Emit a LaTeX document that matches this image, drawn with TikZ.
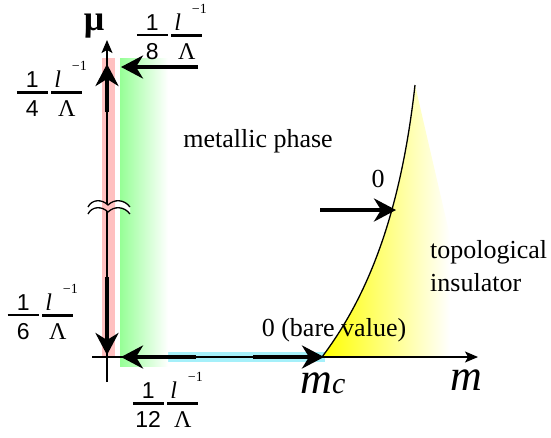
\documentclass[tikz,border=0pt]{standalone}
\usepackage{fontspec}
\setmainfont{Liberation Serif}
\newfontfamily\sfd{Liberation Sans}
\usetikzlibrary{arrows.meta}
\definecolor{pinkband}{RGB}{255,192,192}
\definecolor{greenband}{RGB}{150,255,150}
\definecolor{cyanband}{RGB}{165,240,250}
\tikzset{
 thickarrow/.style={line width=4.5pt,-{Stealth[length=22pt,width=23pt,inset=7pt]}},
 axisarrow/.style={line width=1.3pt,-{Stealth[length=13pt,width=11pt,inset=3pt]}},
 lbl/.style={inner sep=0pt, font=\fontsize{26}{30}\selectfont},
 fracl/.style={inner sep=0pt, font=\fontsize{10}{12}\selectfont},
}
\newcommand\digf[1]{\scalebox{2.3}{\sfd #1}}
\newcommand\ellf{\scalebox{2.4}{\itshape l}}
\newcommand\lamf{\scalebox{2.4}{Λ}}
\newcommand\supf{\scalebox{1.4}{−1}}
\newcommand\onefr[3]{\vbox{\hbox to #1{\rule{0pt}{17pt}#2}\kern4pt\hrule height 2.2pt\kern7pt\hbox to #1{\rule{0pt}{16pt}#3}}}
\newcommand\myfr[1]{\hbox{\onefr{31pt}{\hfil\digf{1}\hfil}{\hfil\digf{#1}\hfil}\kern3.5pt\onefr{31pt}{\kern3pt\ellf\kern11pt\rlap{\smash{\raisebox{17pt}{\supf}}}\hfil}{\hfil\lamf\hfil}}}
\begin{document}
\begin{tikzpicture}[x=1pt,y=-1pt]
\fill[white] (0,0) rectangle (551,437);
\useasboundingbox (0,0) rectangle (551,437);
% bands
\fill[cyanband] (120,352) rectangle (325,362);
\fill[pinkband] (102,58) rectangle (115,357);
\shade[left color=greenband, right color=white] (120,58) rectangle (168,366);
% yellow region
\begin{scope}
\clip (322,357) .. controls (365,300) and (400,220) .. (415,85) -- (478,357) -- cycle;
\shade[left color=yellow, right color=white] (322,80) rectangle (450,360);
\end{scope}
% axes
\coordinate (O) at (107,357);
\coordinate (ybot) at (107,382);
\coordinate (ytop) at (107,40);
\coordinate (xleft) at (92,357);
\coordinate (xright) at (478,357);
\draw[axisarrow] (ybot) -- (ytop);
\draw[axisarrow] (xleft) -- (xright);
% critical curve
\coordinate (mc) at (322,357);
\coordinate (ctop) at (415,85);
\draw[line width=1.3pt] (mc) .. controls (365,300) and (400,220) .. (ctop);
% break mark
\fill[white] (88,207) .. controls (92,199) and (102,199) .. (108,205) .. controls (114,199) and (124,199) .. (130,207)
  -- (130,214) .. controls (124,206) and (114,206) .. (108,212) .. controls (102,206) and (92,206) .. (88,214) -- cycle;
\begin{scope}
\clip (102,190) rectangle (115,225);
\fill[pinkband] (88,207) .. controls (92,199) and (102,199) .. (108,205) .. controls (114,199) and (124,199) .. (130,207)
  -- (130,214) .. controls (124,206) and (114,206) .. (108,212) .. controls (102,206) and (92,206) .. (88,214) -- cycle;
\end{scope}
\draw[line width=1.3pt] (88,207) .. controls (92,199) and (102,199) .. (108,205) .. controls (114,199) and (124,199) .. (130,207);
\draw[line width=1.3pt] (88,214) .. controls (92,206) and (102,206) .. (108,212) .. controls (114,206) and (124,206) .. (130,214);
% thick flow arrows
\coordinate (a1s) at (107,112); \coordinate (a1e) at (107,64);
\coordinate (a2s) at (198,67);  \coordinate (a2e) at (121,67);
\coordinate (a3s) at (107,277); \coordinate (a3e) at (107,355);
\coordinate (a4s) at (196,357); \coordinate (a4e) at (121,357);
\coordinate (a5s) at (253,357); \coordinate (a5e) at (324,357);
\coordinate (a6s) at (320,210); \coordinate (a6e) at (396,210);
\draw[thickarrow] (a1s) -- (a1e);
\draw[thickarrow] (a2s) -- (a2e);
\draw[thickarrow] (a3s) -- (a3e);
\draw[thickarrow] (a4s) -- (a4e);
\draw[thickarrow] (a5s) -- (a5e);
\draw[thickarrow] (a6s) -- (a6e);
% labels
\node[inner sep=0pt, font=\fontsize{36}{36}\selectfont\bfseries] (mu) at (94,26) {μ};
\node[fracl] (f8) at (169.5,36.5) {\myfr{8}};
\node[fracl] (f4) at (49.5,93.5) {\myfr{4}};
\node[fracl] (f6) at (40.5,316.5) {\myfr{6}};
\node[fracl] (f12) at (165.5,404.5) {\myfr{12}};
\node[lbl] (metal) at (258,141) {metallic phase};
\node[lbl, align=left, anchor=north west, font=\fontsize{26}{33}\selectfont] (topo) at (430,240) {topological\\insulator};
\node[lbl] (bare) at (334,330) {0 (bare value)};
\node[lbl] (zero) at (378,179) {0};
\node[inner sep=0pt, font=\fontsize{44}{44}\selectfont\itshape] (mclbl) at (323,383) {m\fontsize{30}{30}\selectfont c};
\node[inner sep=0pt, font=\fontsize{44}{44}\selectfont\itshape] (mlbl) at (466,380) {m};
\end{tikzpicture}
\end{document}
